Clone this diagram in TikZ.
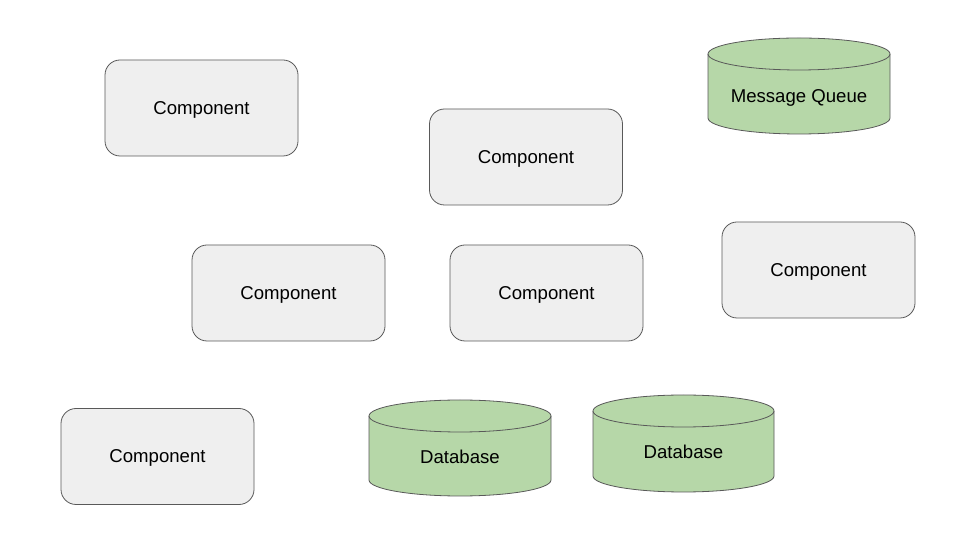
\documentclass[tikz,border=0pt]{standalone}
\usepackage{fontspec}
\setmainfont{Liberation Sans}
\definecolor{boxfill}{HTML}{EFEFEF}
\definecolor{edgegray}{HTML}{595959}
\definecolor{dbgreen}{HTML}{B6D7A8}
\tikzset{
  comp/.style={draw=edgegray, fill=boxfill, line width=0.8pt, rounded corners=15pt,
    minimum width=193pt, minimum height=96pt, text depth=0pt, font=\fontsize{18.6}{21}\selectfont},
  cyl/.style={draw=edgegray, fill=dbgreen, line width=0.8pt},
  cyltext/.style={font=\fontsize{18.6}{21}\selectfont, inner sep=0pt}
}
\newcommand\drawcyl[5]{% cx, rx, ytop, ybot, ry
  \path[cyl] ({#1-#2},#3) -- ({#1-#2},#4)
    arc[start angle=180,end angle=360,x radius=#2,y radius=#5]
    -- ({#1+#2},#3)
    arc[start angle=0,end angle=180,x radius=#2,y radius=#5] -- cycle;
  \draw[draw=edgegray, line width=0.8pt] ({#1-#2},#3)
    arc[start angle=180,end angle=360,x radius=#2,y radius=#5];
}
\begin{document}
\begin{tikzpicture}[x=1pt,y=1pt]
\useasboundingbox[fill=white] (0,0) rectangle (960,540);
\node[comp] (c1) at (201.5,432) {Component};
\node[comp] (c2) at (526,383) {Component};
\node[comp] (c3) at (288.5,247) {Component};
\node[comp] (c4) at (546.5,247) {Component};
\node[comp] (c5) at (818.5,270) {Component};
\node[comp] (c6) at (157.5,83.5) {Component};
\drawcyl{799}{91}{486}{422}{16}
\node[cyltext] (mq) at (799,442) {Message Queue};
\drawcyl{460}{91}{124}{60}{16}
\node[cyltext] (db1) at (460,83) {Database};
\drawcyl{683.5}{90.5}{129}{64}{16}
\node[cyltext] (db2) at (683.5,88) {Database};
\end{tikzpicture}
\end{document}
